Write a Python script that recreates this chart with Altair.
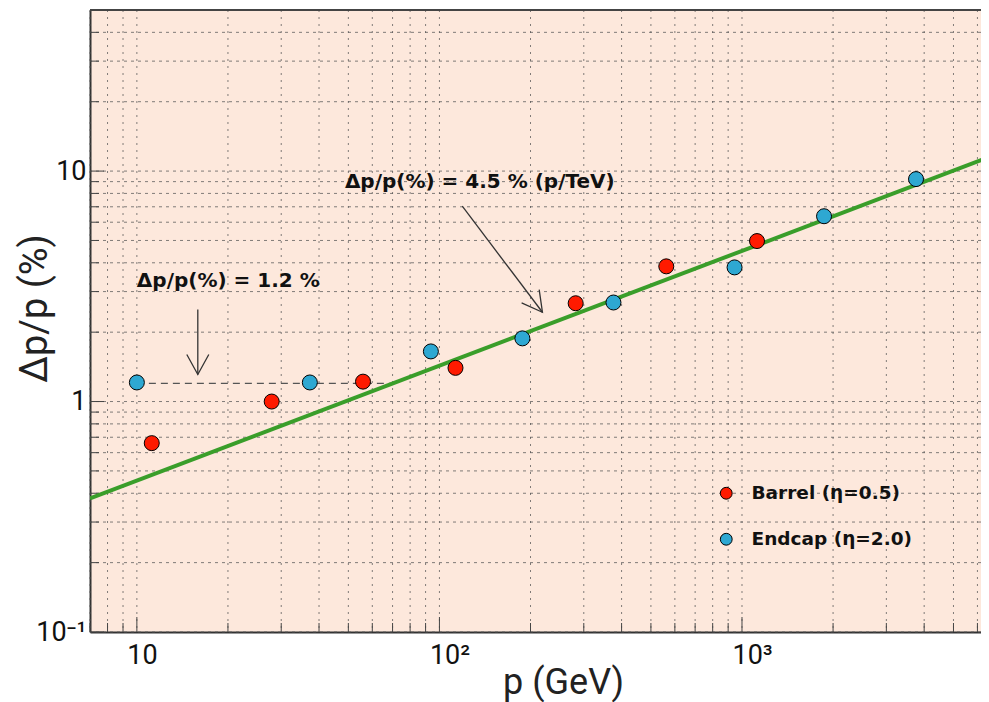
import altair as alt
import pandas as pd

# ---- data ----
barrel_p = [11.2, 27.9, 55.9, 113, 282, 562, 1121]
barrel_res = [0.66, 1.0, 1.22, 1.40, 2.67, 3.86, 4.97]
endcap_p = [10.0, 37.3, 93.7, 188, 376, 945, 1867, 3760]
endcap_res = [1.21, 1.21, 1.65, 1.88, 2.69, 3.82, 6.37, 9.23]
series_names = ["Barrel (η=0.5)", "Endcap (η=2.0)"]
series_colors = ["#FF1A00", "#2EA8D2"]

fit_p = [7, 6555]
fit_res = [0.38, 11.5]
const_p = [10, 70]
const_res = [1.2, 1.2]

x_major = [10, 100, 1000]
x_minor = [7, 8, 9, 20, 30, 40, 50, 60, 70, 80, 90,
           200, 300, 400, 500, 600, 700, 800, 900,
           2000, 3000, 4000, 5000, 6000]
y_major = [0.1, 1, 10]
y_minor = [0.2, 0.3, 0.4, 0.5, 0.6, 0.7, 0.8, 0.9,
           2, 3, 4, 5, 6, 7, 8, 9, 20, 30, 40]

arrow_id = ["a1", "a1", "a2", "a2"]
arrow_p = [15.9, 15.9, 119, 219]
arrow_v = [2.51, 1.31, 7.04, 2.44]
head_p = [15.9, 219]
head_v = [1.31, 2.44]
head_angle = [0, 323]

label_text = ["Δp/p(%) = 1.2 %", "Δp/p(%) = 4.5 % (p/TeV)"]
label_p = [10.0, 48.7]
label_v = [3.32, 8.96]

W, H = 891, 622
xs = alt.Scale(type="log", domain=[7, 6165], nice=False)
ys = alt.Scale(type="log", domain=[0.1, 50], nice=False)

ax_x = alt.Axis(
    orient="bottom",
    values=x_major, title="p (GeV)", grid=False, ticks=False,
    labelExpr="datum.value == 10 ? '10' : datum.value == 100 ? '10²' : '10³'",
    labelFont="Roboto", labelFontSize=27, labelColor="#111111", labelPadding=10,
    labelAlign="left", labelOffset=-10,
    titleFont="Roboto", titleFontSize=36, titleFontWeight="normal", titleColor="#222222",
    titleX=473, titleY=50, titleBaseline="middle",
    domainColor="#333333", domainWidth=2)
ax_y = alt.Axis(
    orient="left",
    values=y_major, title="Δp/p (%)", grid=False, ticks=False,
    labelExpr="datum.value == 10 ? '10' : datum.value == 1 ? '1' : '10⁻¹'",
    labelFont="Roboto", labelFontSize=27, labelColor="#111111", labelPadding=4,
    titleFont="Roboto", titleFontSize=38, titleFontWeight="normal", titleColor="#222222",
    titleX=-55, titleY=298, titleBaseline="middle", titleAngle=270,
    domainColor="#333333", domainWidth=2)


def X(f):
    return alt.X(f, scale=xs, axis=ax_x)


def Y(f):
    return alt.Y(f, scale=ys, axis=ax_y)


pts = pd.DataFrame({
    "p": barrel_p + endcap_p,
    "v": barrel_res + endcap_res,
    "s": [series_names[0]] * len(barrel_p) + [series_names[1]] * len(endcap_p),
})
fit = pd.DataFrame({"p": fit_p, "v": fit_res})
const = pd.DataFrame({"p": const_p, "v": const_res})
xg = pd.DataFrame({"p": x_major + x_minor})
yg = pd.DataFrame({"v": y_major + y_minor})
xmaj = pd.DataFrame({"p": x_major})
xmin = pd.DataFrame({"p": x_minor})
ymaj = pd.DataFrame({"v": y_major})
ymin = pd.DataFrame({"v": y_minor})
arrows = pd.DataFrame({"id": arrow_id, "p": arrow_p, "v": arrow_v})
heads = pd.DataFrame({"p": head_p, "v": head_v, "a": head_angle})
labels = pd.DataFrame({"t": label_text, "p": label_p, "v": label_v})

gridc = "#555555"
vgrid = alt.Chart(xg).mark_rule(color=gridc, strokeDash=[2, 5], strokeWidth=1, opacity=0.75).encode(
    x=X("p:Q"))
hgrid = alt.Chart(yg).mark_rule(color=gridc, strokeDash=[3, 4], strokeWidth=1, opacity=0.75).encode(
    y=Y("v:Q"))

tickc = "#444444"
xt_maj = alt.Chart(xmaj).mark_rule(color=tickc, strokeWidth=1).encode(
    x=X("p:Q"), y=alt.value(H), y2=alt.value(H - 15))
xt_min = alt.Chart(xmin).mark_rule(color=tickc, strokeWidth=1).encode(
    x=X("p:Q"), y=alt.value(H), y2=alt.value(H - 9))
yt_maj = alt.Chart(ymaj).mark_rule(color=tickc, strokeWidth=1).encode(
    y=Y("v:Q"), x=alt.value(0), x2=alt.value(14))
yt_min = alt.Chart(ymin).mark_rule(color=tickc, strokeWidth=1).encode(
    y=Y("v:Q"), x=alt.value(0), x2=alt.value(9))

const_line = alt.Chart(const).mark_line(color="#555555", strokeDash=[7, 5], strokeWidth=1.2).encode(
    x=X("p:Q"), y=Y("v:Q"))
fit_line = alt.Chart(fit).mark_line(color="#3A9E2A", strokeWidth=4, clip=True).encode(
    x=X("p:Q"), y=Y("v:Q"))

arrow_lines = alt.Chart(arrows).mark_line(color="#333333", strokeWidth=1.3).encode(
    x=X("p:Q"), y=Y("v:Q"), detail="id:N")
arrow_heads = alt.Chart(heads).mark_point(
    shape="M -0.55 -1 L 0 0 L 0.55 -1", filled=False, size=1600,
    color="#333333", strokeWidth=1.3, opacity=1).encode(
    x=X("p:Q"), y=Y("v:Q"), angle=alt.Angle("a:Q", scale=None))

texts = alt.Chart(labels).mark_text(
    align="left", baseline="middle", font="DejaVu Sans", fontWeight="bold",
    fontSize=20, color="#111111").encode(
    x=X("p:Q"), y=Y("v:Q"), text="t:N")

points = alt.Chart(pts).mark_point(filled=True, size=225, stroke="black", strokeWidth=1,
                                    opacity=1).encode(
    x=X("p:Q"), y=Y("v:Q"),
    color=alt.Color("s:N", scale=alt.Scale(domain=series_names, range=series_colors),
                    legend=alt.Legend(
                        title=None, orient="none", legendX=627, legendY=474,
                        labelFont="DejaVu Sans", labelFontWeight="bold", labelFontSize=18.5,
                        labelColor="#111111", labelOffset=16, rowPadding=27, labelLimit=0,
                        symbolType="circle", symbolSize=140, symbolStrokeColor="black",
                        symbolStrokeWidth=1, padding=0)),
)

top_border = alt.Chart(pd.DataFrame({"g": [0]})).mark_rule(color="#444444", strokeWidth=2).encode(
    x=alt.value(0), x2=alt.value(W), y=alt.value(0))

chart = alt.layer(
    vgrid, hgrid, xt_maj, xt_min, yt_maj, yt_min, const_line, fit_line,
    arrow_lines, arrow_heads, texts, points, top_border
).properties(
    width=W, height=H,
    autosize=alt.AutoSizeParams(type="none"),
    padding={"left": 82, "top": 2, "right": 0, "bottom": 70},
    background="white",
).configure_view(fill="#FDE8DC", stroke=None)

chart.save("out.html", embed_options={"renderer": "svg", "actions": False})
